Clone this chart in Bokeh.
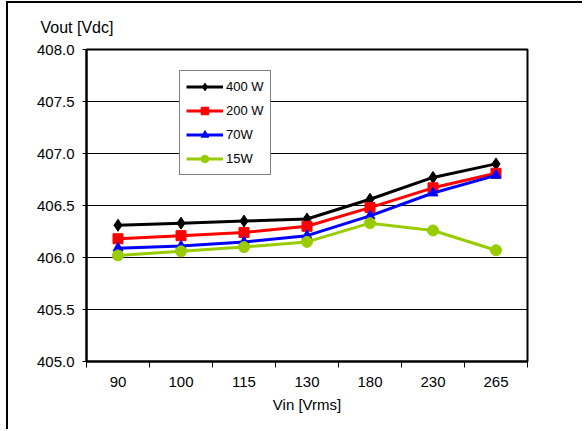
from bokeh.plotting import figure
from bokeh.models import Range1d, FixedTicker, Legend, LegendItem, NumeralTickFormatter
from bokeh.embed import file_html
from bokeh.resources import INLINE

vin = ["90", "100", "115", "130", "180", "230", "265"]
p400 = [406.31, 406.33, 406.35, 406.37, 406.56, 406.77, 406.90]
p200 = [406.18, 406.21, 406.24, 406.30, 406.48, 406.67, 406.81]
p70 = [406.09, 406.11, 406.15, 406.21, 406.40, 406.62, 406.79]
p15 = [406.02, 406.06, 406.10, 406.15, 406.33, 406.26, 406.07]
yticks = [405.0, 405.5, 406.0, 406.5, 407.0, 407.5, 408.0]

xs = [i + 0.5 for i in range(len(vin))]
bounds = [i for i in range(len(vin) + 1)]

FONT = "Liberation Sans"

W, H = 576, 428
p = figure(width=W, height=H, output_backend="svg", toolbar_location=None,
           x_range=Range1d(0, len(vin)), y_range=Range1d(yticks[0], yticks[-1]),
           min_border_left=78, min_border_right=57, min_border_top=46, min_border_bottom=70,
           title="Vout [Vdc]")
p.styles = {"margin-left": "6px", "margin-top": "1px",
            "border-top": "2px solid black", "border-left": "2px solid black"}

p.title.align = "left"
p.title.offset = -46
p.title.standoff = 27
p.title.text_font = FONT
p.title.text_font_size = "16px"
p.title.text_font_style = "normal"
p.title.text_color = "black"

p.outline_line_color = "black"
p.outline_line_width = 2
p.background_fill_color = "white"
p.border_fill_color = "white"

# y axis
p.yaxis.ticker = FixedTicker(ticks=yticks)
p.yaxis.formatter = NumeralTickFormatter(format="0.0")
p.yaxis.major_tick_out = 4
p.yaxis.major_tick_in = 0
p.yaxis.minor_tick_line_color = None
p.yaxis.major_label_standoff = 8
p.yaxis.axis_line_color = "black"
p.yaxis.axis_line_width = 2
p.yaxis.major_label_text_font = FONT
p.yaxis.major_label_text_font_size = "15px"
p.yaxis.major_label_text_color = "black"

# x axis
p.xaxis.ticker = FixedTicker(ticks=xs, minor_ticks=bounds)
p.xaxis.major_label_overrides = {x: lab for x, lab in zip(xs, vin)}
p.xaxis.major_tick_line_color = None
p.xaxis.major_tick_out = 6
p.xaxis.major_tick_in = 0
p.xaxis.minor_tick_out = 6
p.xaxis.minor_tick_in = 0
p.xaxis.minor_tick_line_color = "black"
p.xaxis.major_label_standoff = 9
p.xaxis.axis_line_color = "black"
p.xaxis.axis_line_width = 2
p.xaxis.major_label_text_font = FONT
p.xaxis.major_label_text_font_size = "15px"
p.xaxis.major_label_text_color = "black"
p.xaxis.axis_label = "Vin [Vrms]"
p.xaxis.axis_label_text_font = FONT
p.xaxis.axis_label_text_font_size = "15px"
p.xaxis.axis_label_text_font_style = "normal"
p.xaxis.axis_label_standoff = 6
p.xaxis.axis_label_text_color = "black"

p.xgrid.visible = False
p.ygrid.ticker = FixedTicker(ticks=yticks)
p.ygrid.grid_line_color = "black"
p.ygrid.grid_line_width = 1

series = [
    ("400 W", p400, "black", "diamond", 12),
    ("200 W", p200, "#FF0000", "square", 10),
    ("70W", p70, "#0000FF", "triangle", 10),
    ("15W", p15, "#99CC00", "circle", 11),
]
items = []
for label, ys, col, mk, sz in series:
    l = p.line(xs, ys, line_color=col, line_width=3)
    s = p.scatter(xs, ys, marker=mk, size=sz, fill_color=col, line_color=col)
    items.append(LegendItem(label=label, renderers=[l, s]))

legend = Legend(items=items, location=(93, 186))
legend.border_line_color = "black"
legend.border_line_width = 1
legend.background_fill_color = "white"
legend.background_fill_alpha = 1
legend.glyph_width = 37
legend.glyph_height = 19
legend.label_height = 19
legend.spacing = 5
legend.padding = 6
legend.margin = 0
legend.label_standoff = 3
legend.label_text_font = FONT
legend.label_text_font_size = "13px"
legend.label_text_color = "black"
p.add_layout(legend, "center")

open("out.html", "w").write(file_html(p, INLINE))
